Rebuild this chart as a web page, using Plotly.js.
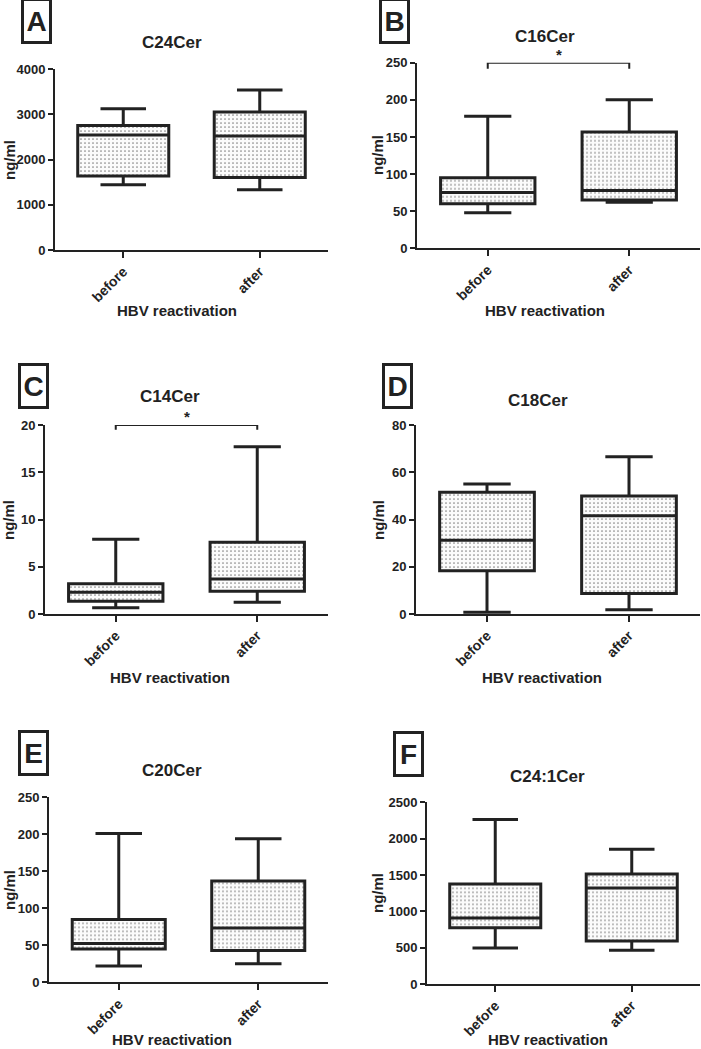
<!DOCTYPE html>
<html>
<head>
<meta charset="utf-8">
<script src="https://cdn.plot.ly/plotly-3.0.1.min.js"></script>
<style>
  html, body { margin: 0; padding: 0; background: #fff; }
  #chart { width: 701px; height: 1049px; }
</style>
</head>
<body>
<div id="chart"></div>
<script>
// categories and panel labels
const groups = ['before', 'after'];
const panelLetters = ['A', 'B', 'C', 'D', 'E', 'F'];
const panelTitles = ['C24Cer', 'C16Cer', 'C14Cer', 'C18Cer', 'C20Cer', 'C24:1Cer'];
const yMax = [4000, 250, 20, 80, 250, 2500];
const yStep = [1000, 50, 5, 20, 50, 500];

// min / Q1 / median / Q3 / max per panel, [before, after]
const lowVals  = [[1440, 1330], [48, 62],    [0.65, 1.25], [0.7, 1.8],   [22, 25],   [495, 465]];
const q1Vals   = [[1635, 1600], [60, 65],    [1.35, 2.4],  [18.3, 8.7],  [45, 43],   [775, 590]];
const medVals  = [[2540, 2520], [75, 78],    [2.3, 3.7],   [31.2, 41.6], [52.5, 73.5], [908, 1321]];
const q3Vals   = [[2750, 3050], [95, 156.5], [3.2, 7.6],   [51.5, 49.9], [85, 137],  [1376, 1514]];
const highVals = [[3120, 3535], [178, 200],  [7.9, 17.7],  [55, 66.6],   [201, 194], [2265, 1853]];

// significance brackets (null = none): top level and leg end
const sigTop = [null, 250, 20, null, null, null];
const sigLeg = [null, 242, 19.5, null, null, null];

// ---- layout geometry (pixels in the 701x1049 frame) ----
const W = 701, H = 1049;
// plot area [left, right, top, bottom]
const areas = [
  [55, 328, 69, 250], [417, 700, 62.7, 248.3],
  [45, 328, 425, 614], [416, 700, 425, 614],
  [49, 328, 797.3, 982.3], [427, 700, 802.3, 984]
];
const letterPos = [[36.5, 21], [394, 21], [33.5, 385.5], [397.5, 385.5], [33, 753], [408, 753.5]];
const titlePos = [[172, 43], [545, 37], [170, 397], [538, 400], [172, 770], [547, 776]];
const yTitlePos = [[9, 160], [377, 155], [9, 520], [379, 520], [9, 890], [377, 893]];
const xTitlePos = [[177, 310], [545, 310], [170, 677], [542, 677], [172, 1039], [548, 1039]];

const FONT = 'Liberation Sans, Arial, sans-serif';
const INK = '#222';
const BOXW = 0.667;

function px(x) { return x / W; }
function py(y) { return 1 - y / H; }

const traces = [];
const layout = {
  width: W, height: H,
  margin: { l: 0, r: 0, t: 0, b: 0 },
  paper_bgcolor: '#fff', plot_bgcolor: '#fff',
  showlegend: false,
  barmode: 'overlay',
  font: { family: FONT, color: INK },
  annotations: []
};

panelTitles.forEach((title, i) => {
  const n = i + 1;
  const xa = 'x' + n, ya = 'y' + n;
  const a = areas[i];

  // stippled fill between Q1 and Q3
  traces.push({
    type: 'bar', x: groups, base: q1Vals[i],
    y: q3Vals[i].map((v, k) => v - q1Vals[i][k]),
    width: BOXW, xaxis: xa, yaxis: ya, hoverinfo: 'skip',
    marker: {
      color: '#fff', line: { width: 0 },
      pattern: { shape: '.', size: 4, solidity: 0.15, fgcolor: '#888', bgcolor: '#fbfbfb' }
    }
  });

  // box + whiskers (min to max)
  traces.push({
    type: 'box', x: groups,
    lowerfence: lowVals[i], q1: q1Vals[i], median: medVals[i],
    q3: q3Vals[i], upperfence: highVals[i],
    width: BOXW, whiskerwidth: 0.5, boxpoints: false,
    fillcolor: 'rgba(0,0,0,0)', line: { color: INK, width: 3 },
    xaxis: xa, yaxis: ya, hoverinfo: 'skip'
  });

  // significance bracket
  if (sigTop[i] !== null) {
    traces.push({
      type: 'scatter', mode: 'lines',
      x: [groups[0], groups[0], groups[1], groups[1]],
      y: [sigLeg[i], sigTop[i], sigTop[i], sigLeg[i]],
      line: { color: INK, width: 2 }, cliponaxis: false,
      xaxis: xa, yaxis: ya, hoverinfo: 'skip'
    });
    layout.annotations.push({
      text: '*', x: 0.5, y: sigTop[i], xref: xa, yref: ya,
      xanchor: 'center', yanchor: 'bottom', yshift: -2, showarrow: false,
      font: { family: FONT, size: 15, weight: 'bold', color: INK }
    });
  }

  layout['xaxis' + n] = {
    domain: [px(a[0]), px(a[1])], anchor: ya,
    type: 'category', range: [-0.5, 1.5],
    showline: true, linecolor: INK, linewidth: 2,
    ticks: 'outside', ticklen: 6, tickwidth: 2, tickcolor: INK,
    tickangle: -45, showgrid: false, zeroline: false, fixedrange: true,
    tickfont: { family: FONT, size: 14, weight: 'bold', color: INK }
  };
  layout['yaxis' + n] = {
    domain: [py(a[3]), py(a[2])], anchor: xa,
    range: [0, yMax[i]], dtick: yStep[i], tick0: 0,
    showline: true, linecolor: INK, linewidth: 2,
    ticks: 'outside', ticklen: 5, tickwidth: 2, tickcolor: INK,
    showgrid: false, zeroline: false, fixedrange: true,
    tickfont: { family: FONT, size: 13, weight: 'bold', color: INK }
  };

  // panel letter in a frame
  layout.annotations.push({
    text: panelLetters[i], x: px(letterPos[i][0]), y: py(letterPos[i][1]),
    xref: 'paper', yref: 'paper', showarrow: false,
    xanchor: 'center', yanchor: 'middle', width: 25, height: 40,
    bordercolor: INK, borderwidth: 3, borderpad: 0,
    font: { family: FONT, size: 28, weight: 'bold', color: INK }
  });
  // panel title
  layout.annotations.push({
    text: title, x: px(titlePos[i][0]), y: py(titlePos[i][1]),
    xref: 'paper', yref: 'paper', showarrow: false,
    xanchor: 'center', yanchor: 'middle',
    font: { family: FONT, size: 17, weight: 'bold', color: INK }
  });
  // y axis title
  layout.annotations.push({
    text: 'ng/ml', x: px(yTitlePos[i][0]), y: py(yTitlePos[i][1]),
    xref: 'paper', yref: 'paper', showarrow: false, textangle: -90,
    xanchor: 'center', yanchor: 'middle',
    font: { family: FONT, size: 15, weight: 'bold', color: INK }
  });
  // x axis title
  layout.annotations.push({
    text: 'HBV reactivation', x: px(xTitlePos[i][0]), y: py(xTitlePos[i][1]),
    xref: 'paper', yref: 'paper', showarrow: false,
    xanchor: 'center', yanchor: 'middle',
    font: { family: FONT, size: 15, weight: 'bold', color: INK }
  });
});

Plotly.newPlot('chart', traces, layout, { staticPlot: true });
</script>
</body>
</html>
